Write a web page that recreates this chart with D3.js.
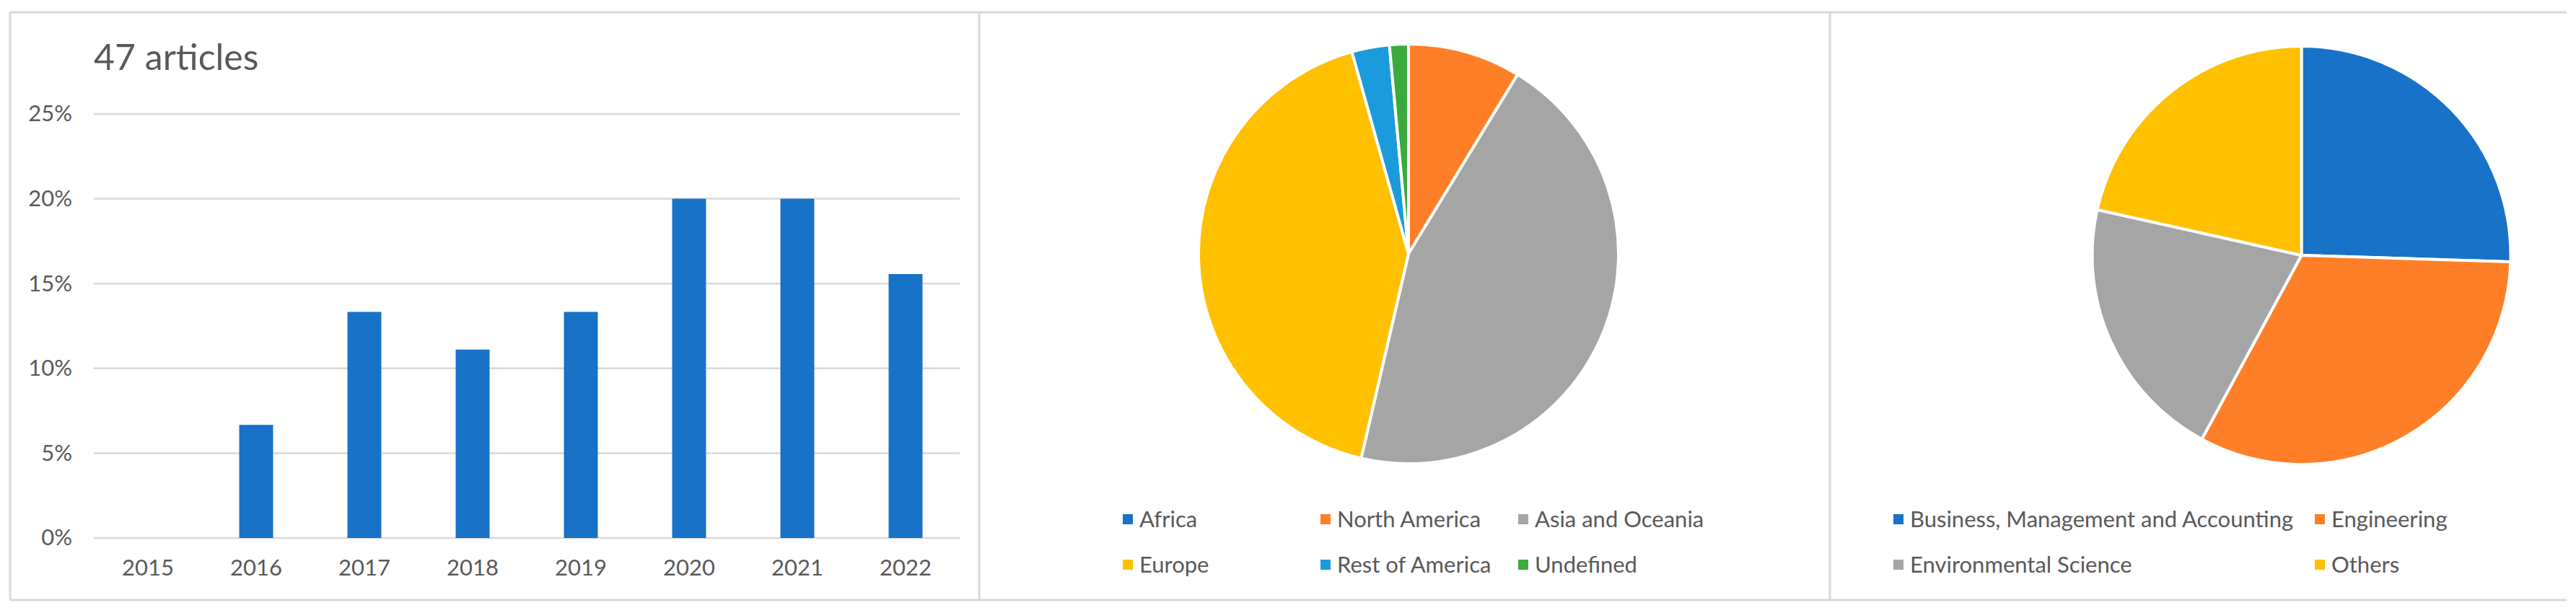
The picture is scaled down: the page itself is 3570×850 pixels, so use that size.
<!DOCTYPE html>
<html>
<head>
<meta charset="utf-8">
<script src="https://cdn.jsdelivr.net/npm/d3@7"></script>
<style>
  html, body { margin: 0; padding: 0; background: #fff; }
  svg { display: block; }
  text { font-family: Lato, "Open Sans", sans-serif; fill: #595959; }
</style>
</head>
<body>
<svg id="chart" width="3570" height="850"></svg>
<script>
// ---------- data ----------
const years = ["2015", "2016", "2017", "2018", "2019", "2020", "2021", "2022"];
const yearShare = [0, 6.67, 13.33, 11.11, 13.33, 20, 20, 15.56];
const yTicks = [0, 5, 10, 15, 20, 25];
const barTitle = "47 articles";

const regions = ["Africa", "North America", "Asia and Oceania", "Europe", "Rest of America", "Undefined"];
const regionCounts = [0, 6, 31, 29, 2, 1];
const regionColors = ["#1872c8", "#fe7f27", "#a5a5a5", "#ffc000", "#1b9bdb", "#3aab3c"];

const areas = ["Business, Management and Accounting", "Engineering", "Environmental Science", "Others"];
const areaShare = [25.5, 32.4, 20.6, 21.5];
const areaColors = ["#1872c8", "#fe7f27", "#a5a5a5", "#ffc000"];

// ---------- setup ----------
const svg = d3.select("#chart");
svg.append("rect").attr("width", 3570).attr("height", 850).attr("fill", "#fff");

// panel frame
const frame = svg.append("g").attr("stroke", "#d9d9d9").attr("stroke-width", 3).attr("fill", "none");
frame.append("line").attr("x1", 14).attr("x2", 3557).attr("y1", 17).attr("y2", 17);
frame.append("line").attr("x1", 14).attr("x2", 3557).attr("y1", 832).attr("y2", 832);
[14, 1357, 2536].forEach(x =>
  frame.append("line").attr("x1", x).attr("x2", x).attr("y1", 17).attr("y2", 832));

// ---------- bar chart ----------
const x = d3.scaleBand().domain(years).range([130, 1330]).paddingInner(0.687).paddingOuter(0.3435);
const y = d3.scaleLinear().domain([0, 25]).range([746, 158]);

const barG = svg.append("g");
// gridlines
barG.append("g").selectAll("line").data(yTicks).join("line")
  .attr("x1", 130).attr("x2", 1330)
  .attr("y1", d => y(d)).attr("y2", d => y(d))
  .attr("stroke", "#d9d9d9").attr("stroke-width", 2.5);

// y axis labels
const yAxis = d3.axisLeft(y).tickValues(yTicks).tickFormat(d => d + "%").tickSize(0).tickPadding(0);
const yA = barG.append("g").attr("transform", "translate(100,0)").call(yAxis);
yA.select(".domain").remove();
yA.selectAll("text").attr("font-size", 31).attr("font-family", "Lato").attr("fill", "#595959");

// x axis labels
const xAxis = d3.axisBottom(x).tickSize(0).tickPadding(0);
const xA = barG.append("g").attr("transform", "translate(0,776)").call(xAxis);
xA.select(".domain").remove();
xA.selectAll("text").attr("font-size", 31).attr("font-family", "Lato").attr("fill", "#595959");

// bars
barG.append("g").selectAll("rect").data(yearShare).join("rect")
  .attr("x", (d, i) => x(years[i]))
  .attr("width", x.bandwidth())
  .attr("y", d => y(d))
  .attr("height", d => y(0) - y(d))
  .attr("fill", "#1872c8");

// title
barG.append("text").attr("x", 130).attr("y", 97).attr("font-size", 50).text(barTitle);

// ---------- pies ----------
function drawPie(cx, cy, r, values, colors) {
  const pie = d3.pie().sort(null).value(d => d);
  const arc = d3.arc().innerRadius(0).outerRadius(r);
  svg.append("g").attr("transform", `translate(${cx},${cy})`)
    .selectAll("path").data(pie(values)).join("path")
    .attr("d", arc)
    .attr("fill", (d, i) => colors[i])
    .attr("stroke", "#fff").attr("stroke-width", 4).attr("stroke-linejoin", "round");
}

function drawLegend(labels, colors, colX, rowY, textGap) {
  const g = svg.append("g");
  labels.forEach((lab, i) => {
    const cx = colX[i % colX.length];
    const cy = rowY[Math.floor(i / colX.length)];
    g.append("rect").attr("x", cx).attr("y", cy - 7).attr("width", 14).attr("height", 14).attr("fill", colors[i]);
    g.append("text").attr("x", cx + textGap).attr("y", cy).attr("dy", "0.35em")
      .attr("font-size", 31).text(lab);
  });
}

drawPie(1952, 352, 291, regionCounts, regionColors);
drawLegend(regions, regionColors, [1556, 1830, 2104], [720, 783], 23);

drawPie(3189.5, 354, 290, areaShare, areaColors);
drawLegend(areas, areaColors, [2624, 3208], [720, 783], 23);
</script>
</body>
</html>
